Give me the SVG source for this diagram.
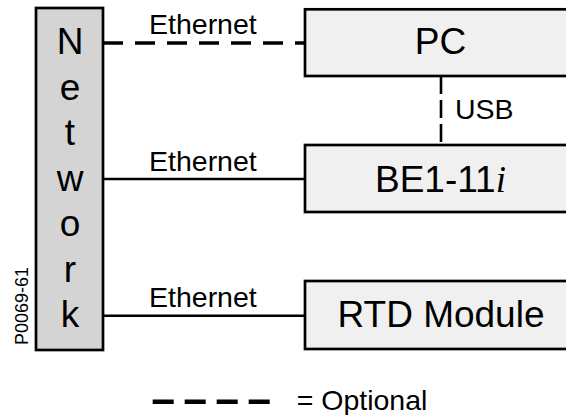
<svg xmlns="http://www.w3.org/2000/svg" width="566" height="415" viewBox="0 0 566 415">
<style>
text{font-family:"Liberation Sans",Arial,sans-serif;fill:#000}
.box{fill:#f0f0f0;stroke:#000;stroke-width:2.7}
.net{fill:#d4d4d4;stroke:#000;stroke-width:2.7}
.big{font-size:37px;text-anchor:middle}
.lbl{font-size:28.5px}
.ln{stroke:#000;stroke-width:2.6;fill:none}
.dash{stroke-width:3.4;stroke-dasharray:20 12}
</style>
<rect width="566" height="415" fill="#fff"/>
<g id="connectors">
<line class="ln dash" x1="103" y1="43" x2="305" y2="43"/>
<line class="ln" x1="103" y1="179" x2="305" y2="179"/>
<line class="ln" x1="103" y1="315.7" x2="305" y2="315.7"/>
<line class="ln" x1="441" y1="76" x2="441" y2="145" stroke-width="3.4" stroke-dasharray="18 6"/>
<text class="lbl" x="149" y="34.3">Ethernet</text>
<text class="lbl" x="149" y="170.7">Ethernet</text>
<text class="lbl" x="149" y="307.3">Ethernet</text>
<text class="lbl" x="455" y="119.3">USB</text>
</g>
<g id="network">
<rect class="net" x="36" y="8" width="67" height="342"/>
<text class="big" x="70" y="54">N</text>
<text class="big" x="70" y="100">e</text>
<text class="big" x="70" y="145">t</text>
<text class="big" x="70" y="191">w</text>
<text class="big" x="70" y="236">o</text>
<text class="big" x="70" y="281.5">r</text>
<text class="big" x="70" y="327">k</text>
</g>
<g id="pc">
<rect class="box" x="305" y="9.3" width="280" height="66.7"/>
<text class="big" x="440.5" y="54">PC</text>
</g>
<g id="be1">
<rect class="box" x="305" y="145" width="280" height="67"/>
<text class="big" x="440.5" y="191.7">BE1-11<tspan font-family="'Liberation Serif',serif" font-style="italic">i</tspan></text>
</g>
<g id="rtd">
<rect class="box" x="305" y="281" width="280" height="68"/>
<text class="big" x="441" y="326.7">RTD Module</text>
</g>
<g id="legend">
<line x1="152.7" y1="401.7" x2="271" y2="401.7" stroke="#000" stroke-width="4.5" stroke-dasharray="21 11"/>
<text x="296.7" y="410" font-size="28.5px">= Optional</text>
</g>
<text x="28" y="345" font-size="18px" transform="rotate(-90 28 345)">P0069-61</text>
</svg>
